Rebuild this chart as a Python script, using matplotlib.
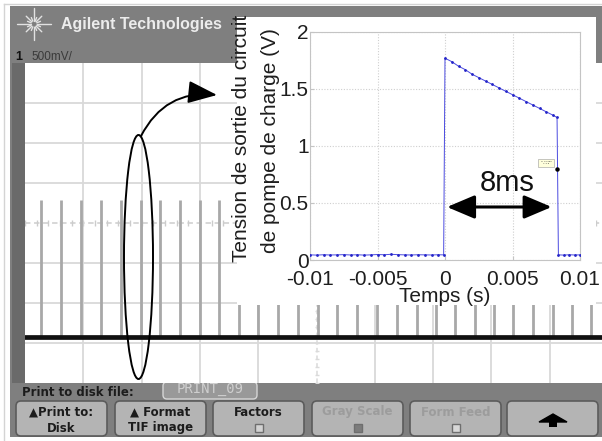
import matplotlib
matplotlib.use("Agg")
import matplotlib.pyplot as plt
from matplotlib.patches import Rectangle, FancyBboxPatch, Ellipse, FancyArrowPatch, Polygon
import numpy as np

# ---------------- data : inset (charge pump output) ----------------
t_before = [-0.0100, -0.0095, -0.0090, -0.0085, -0.0080, -0.0075, -0.0070, -0.0065,
            -0.0060, -0.0055, -0.0050, -0.0045, -0.0040, -0.0035, -0.0030, -0.0025,
            -0.0020, -0.0015, -0.0010, -0.0005, -0.0001]
v_before = [0.045, 0.043, 0.046, 0.044, 0.045, 0.047, 0.044, 0.046, 0.043, 0.045, 0.048,
            0.046, 0.050, 0.047, 0.045, 0.044, 0.046, 0.045, 0.044, 0.046, 0.045]
t_pulse = [0.0000, 0.0005, 0.0010, 0.0015, 0.0020, 0.0025, 0.0030, 0.0035, 0.0040,
           0.0045, 0.0050, 0.0055, 0.0060, 0.0065, 0.0070, 0.0075, 0.0080, 0.0083]
v_pulse = [1.77, 1.74, 1.70, 1.67, 1.63, 1.60, 1.57, 1.54, 1.51,
           1.48, 1.45, 1.42, 1.39, 1.36, 1.33, 1.30, 1.27, 1.25]
t_after = [0.0084, 0.0088, 0.0092, 0.0096, 0.0100]
v_after = [0.045, 0.043, 0.046, 0.044, 0.045]
tip_t, tip_v = 0.0083, 0.80
xticks = [-0.01, -0.005, 0, 0.005, 0.01]
xtick_labels = ["-0.01", "-0.005", "0", "0.005", "0.01"]
yticks = [0, 0.5, 1, 1.5, 2]
ytick_labels = ["0", "0.5", "1", "1.5", "2"]
duration_label = "8ms"

# ---------------- data : oscilloscope trace (divisions / volts) ----------------
pulse_div = [0.27, 0.62, 0.955, 1.30, 1.64, 1.985, 2.315, 2.66, 3.00, 3.33, 3.675,
             4.00, 4.345, 4.69, 5.03, 5.36, 5.70, 6.04, 6.375, 6.72, 7.05, 7.375,
             7.72, 8.05, 8.375, 8.72, 9.05, 9.38, 9.71]
pulse_top_v = 0.29
baseline_v = -1.43

W, H = 602, 441
fig = plt.figure(figsize=(W / 100, H / 100), dpi=100, facecolor="white")

def fx(px):
    return px / W

def fy(py):
    return 1 - py / H

# ---------- background (pixel coordinates) ----------
ax0 = fig.add_axes([0, 0, 1, 1], zorder=0)
ax0.set_xlim(0, W)
ax0.set_ylim(H, 0)
ax0.axis("off")

ax0.plot([4, 4], [4, H], color="#d4d4d4", lw=1)
ax0.plot([4, W], [4, 4], color="#d4d4d4", lw=1)
ax0.add_patch(Rectangle((10, 6), W - 10, 431, facecolor="#7f7f7f", edgecolor="none"))
ax0.add_patch(Rectangle((12, 63), 13, 320, facecolor="#6a6a6a", edgecolor="none"))

# star logo
cx, cy = 34, 24
for ang, ln in [(0, 17), (90, 16), (180, 17), (270, 16), (45, 11), (135, 11), (225, 11), (315, 11),
                (22.5, 7), (67.5, 7), (112.5, 7), (157.5, 7), (202.5, 7), (247.5, 7), (292.5, 7), (337.5, 7)]:
    a = np.deg2rad(ang)
    ax0.plot([cx + 3 * np.cos(a), cx + ln * np.cos(a)], [cy - 3 * np.sin(a), cy - ln * np.sin(a)],
             color="#e2e2e2", lw=1.0, solid_capstyle="round")
ax0.text(61, 24, "Agilent Technologies", ha="left", va="center", fontsize=11.5,
         fontweight="bold", color="#ececec", family="Liberation Sans")
ax0.text(15, 57, "1", ha="left", va="center", fontsize=9, fontweight="bold", color="#111111",
         family="Liberation Sans")
ax0.text(31, 57, "500mV/", ha="left", va="center", fontsize=8.5, color="#3a3a3a",
         family="Liberation Sans")

# bottom soft-key area
ax0.text(22, 392, "Print to disk file:", ha="left", va="center", fontsize=8.5,
         fontweight="bold", color="#1c1c1c", family="DejaVu Sans")
ax0.add_patch(FancyBboxPatch((163, 382), 94, 17, boxstyle="round,pad=0,rounding_size=4",
                             facecolor="#999999", edgecolor="#d6d6d6", lw=1))
ax0.text(210, 389.5, "PRINT_09", ha="center", va="center", fontsize=10, color="#cfcfcf",
         family="DejaVu Sans Mono")

buttons = [(16, "\u25b2Print to:", "Disk", "#1c1c1c", None),
           (115, "\u25b2 Format", "TIF image", "#1c1c1c", None),
           (213, "Factors", None, "#1c1c1c", "#d2d2d2"),
           (312, "Gray Scale", None, "#9c9c9c", "#7c7c7c"),
           (410, "Form Feed", None, "#9c9c9c", "#d8d8d8"),
           (507, None, None, "#1c1c1c", None)]
for bx, l1, l2, col, chk in buttons:
    bw = 91
    ax0.add_patch(FancyBboxPatch((bx, 401), bw, 35, boxstyle="round,pad=0,rounding_size=5",
                                 facecolor="#b4b4b4", edgecolor="#5c5c5c", lw=1.2))
    mx = bx + bw / 2
    if l1:
        ax0.text(mx, 412, l1, ha="center", va="center", fontsize=8.5, fontweight="bold",
                 color=col, family="DejaVu Sans")
    if l2:
        ax0.text(mx, 428, l2, ha="center", va="center", fontsize=8.5, fontweight="bold",
                 color=col, family="DejaVu Sans")
    if chk:
        ax0.add_patch(Rectangle((mx - 4, 424), 8, 8, facecolor=chk, edgecolor="#6e6e6e", lw=1))
ax0.add_patch(Polygon([[553, 414], [567, 422], [539, 422]], closed=True, facecolor="black",
                      edgecolor="black"))
ax0.add_patch(Rectangle((549, 421), 8, 6, facecolor="black", edgecolor="none"))

# ---------- oscilloscope screen ----------
axs = fig.add_axes([fx(25), fy(383), fx(583), 320 / H], zorder=1)
axs.set_xlim(0, 10)
axs.set_ylim(-2, 2)
axs.set_facecolor("white")
for s in axs.spines.values():
    s.set_visible(False)
axs.set_xticks([])
axs.set_yticks([])
for i in [1, 2, 3, 4, 6, 7, 8, 9]:
    axs.axvline(i, color="#d9d9d9", lw=1.3, zorder=1)
for j in [-1.5, -1, -0.5, 0.5, 1, 1.5]:
    axs.axhline(j, color="#d9d9d9", lw=1.3, zorder=1)
axs.axhline(0, color="#d4d4d4", lw=1.3, ls=(0, (3, 2)), zorder=1)
axs.axvline(5, color="#dadada", lw=1.1, ls=(0, (3, 2)), zorder=1)
mk = np.arange(0, 10.01, 0.2)
axs.plot(mk, np.zeros_like(mk), ls="none", marker="|", ms=4, color="#cccccc", zorder=1)
mky = np.arange(-2, 2.01, 0.1)
axs.plot(np.full_like(mky, 5), mky, ls="none", marker="_", ms=3, color="#dadada", zorder=1)
axs.vlines(pulse_div, baseline_v, pulse_top_v, color="#a8a8a8", lw=2.0, zorder=2)
axs.axhline(baseline_v, color="#111111", lw=3.4, zorder=3)
ax0.text(18, 337, "1", ha="center", va="center", fontsize=7, color="#d6d6d6", zorder=0)

# ---------- inset white box ----------
axb = fig.add_axes([fx(237), fy(305), fx(359), 288 / H], zorder=2)
axb.set_facecolor("white")
for s in axb.spines.values():
    s.set_visible(False)
axb.set_xticks([])
axb.set_yticks([])

# ---------- inset plot ----------
ax = fig.add_axes([fx(310), fy(260), fx(270), 228 / H], zorder=3)
ax.set_facecolor("none")
t_all = t_before + t_pulse + t_after
v_all = v_before + v_pulse + v_after
ax.plot(t_all, v_all, color="#4a4ae0", lw=0.7, marker=".", ms=2.0,
        mfc="#2525c8", mec="#2525c8", zorder=3)
ax.set_xlim(-0.01, 0.01)
ax.set_ylim(0, 2)
ax.set_xticks(xticks)
ax.set_xticklabels(xtick_labels)
ax.set_yticks(yticks)
ax.set_yticklabels(ytick_labels)
ax.grid(True, color="#cfcfcf", lw=0.8, ls=(0, (1, 1.5)))
for s in ax.spines.values():
    s.set_color("#c4c4c4")
    s.set_linewidth(0.8)
ax.tick_params(axis="both", direction="in", length=3, color="#c4c4c4",
               labelsize=15, labelcolor="#1e1e1e")
ax.tick_params(axis="y", pad=1)
ax.tick_params(axis="x", pad=7)
for lab in ax.get_xticklabels() + ax.get_yticklabels():
    lab.set_family("Liberation Sans")
ax.set_xlabel("Temps (s)", fontsize=15, color="#1e1e1e", family="Liberation Sans", labelpad=-1)

# data tip
ax.add_patch(Rectangle((0.0069, 0.82), 0.0012, 0.07, facecolor="#ffffdc", edgecolor="#9a9a9a",
                       lw=0.4, zorder=4))
ax.text(0.0075, 0.855, "X: 0.0083\nY: 0.8", fontsize=1.6, ha="center", va="center",
        color="#333333", zorder=5)
ax.plot([tip_t], [tip_v], marker="o", ms=2.2, color="black", ls="none", zorder=5)

# 8 ms annotation
ax.annotate("", xy=(t_pulse[0] + 0.00015, 0.465), xytext=(t_pulse[-1] - 0.0004, 0.465),
            arrowprops=dict(arrowstyle="<|-|>,head_length=0.85,head_width=0.36",
                            mutation_scale=20, lw=2.2, color="black", shrinkA=0, shrinkB=0),
            zorder=6)
ax.text(0.0046, 0.675, duration_label, ha="center", va="center", fontsize=21,
        color="#111111", family="Liberation Sans", zorder=6)

# ---------- overlay (pixel coordinates) ----------
axo = fig.add_axes([0, 0, 1, 1], zorder=5)
axo.set_xlim(0, W)
axo.set_ylim(H, 0)
axo.axis("off")
axo.text(247, 138, "Tension de sortie du circuit", rotation=90, rotation_mode="anchor",
         ha="center", va="baseline", fontsize=15, color="#1e1e1e", family="Liberation Sans")
axo.text(275.5, 141, "de pompe de charge (V)", rotation=90, rotation_mode="anchor",
         ha="center", va="baseline", fontsize=15, color="#1e1e1e", family="Liberation Sans")
axo.add_patch(Ellipse((138.5, 257), 29, 244, facecolor="none", edgecolor="black", lw=1.4))
axo.add_patch(FancyArrowPatch((141, 136), (217, 95), connectionstyle="arc3,rad=-0.34",
                              arrowstyle="-|>,head_length=0.9,head_width=0.35",
                              mutation_scale=20, lw=1.4, color="black",
                              shrinkA=0, shrinkB=0))

fig.savefig("out.png", dpi=100)
